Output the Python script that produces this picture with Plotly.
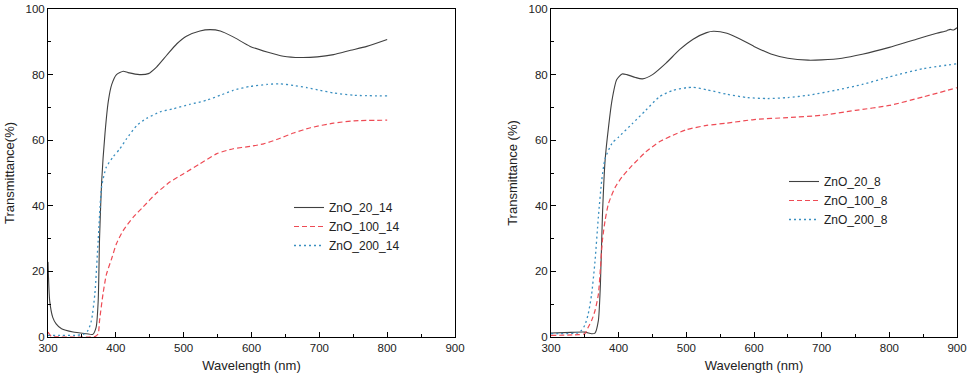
import plotly.graph_objects as go

# ---------------- Left panel data ----------------
wl_20_14 = [300, 302.5, 307, 312, 320, 337, 357, 366, 371, 374, 376, 379, 384, 389, 394, 401, 411, 418, 435, 448, 460,
            475, 490, 504, 524, 539, 554, 573, 598, 623, 647, 672, 697, 721, 746, 770, 800]
t_20_14 = [22.9, 11, 6, 4, 2.5, 1.5, 1.0, 0.8, 3, 11, 30, 47, 62, 72, 77, 80, 81, 80.6, 80, 80.3, 82.3,
           85.9, 89.4, 91.7, 93.3, 93.7, 93.3, 91.5, 88.6, 86.9, 85.6, 85.2, 85.4, 86.1, 87.4, 88.6, 90.7]

wl_100_14 = [300, 305, 320, 340, 360, 370, 374, 376, 381, 386, 394, 401, 411, 426, 440, 460, 480, 500, 524, 549,
             573, 598, 618, 637, 662, 687, 721, 751, 800]
t_100_14 = [1.5, 0.2, 0, 0, 0, 0.2, 1, 5, 13, 19, 24, 28.5, 32.5, 36.6, 39.6, 43.9, 47.3, 49.8, 52.8, 55.9,
            57.4, 58.1, 58.9, 60.2, 62.2, 63.8, 65.2, 65.9, 66.1]

wl_200_14 = [300, 320, 340, 352, 359, 364, 369, 374, 379, 386, 396, 406, 416, 431, 445, 465, 485, 509, 534, 554,
             573, 598, 623, 642, 662, 682, 701, 721, 751, 800]
t_200_14 = [0.5, 0.5, 0.5, 0.8, 2, 5, 13, 29.5, 45.7, 51.8, 54.9, 57.4, 60.5, 64.5, 66.6, 68.6, 69.6, 70.9, 72.2, 73.7,
            75.2, 76.4, 77.0, 77.2, 76.7, 76.0, 75.2, 74.4, 73.7, 73.5]

# ---------------- Right panel data ----------------
wl_20_8 = [300, 330, 350, 360, 365, 370, 373, 376, 380, 385, 390, 397, 405, 412, 425, 435, 450, 470, 490, 510, 530,
           540, 560, 580, 600, 625, 650, 680, 700, 730, 760, 800, 840, 870, 885, 890, 895, 900]
t_20_8 = [1.2, 1.4, 1.5, 1.0, 1.2, 5, 16, 37, 54, 64, 72, 78.4, 80.2, 80, 79.1, 78.7, 80, 83.5, 87.6, 90.8, 92.8,
          93.2, 92.6, 90.8, 88.6, 86.3, 85, 84.4, 84.5, 85, 86.2, 88.3, 90.8, 92.6, 93.4, 93.8, 93.6, 94.3]

wl_100_8 = [300, 340, 350, 355, 360, 365, 370, 373, 376, 380, 385, 395, 405, 420, 440, 460, 480, 500, 530, 560,
            600, 650, 700, 750, 800, 850, 900]
t_100_8 = [0.5, 0.7, 1, 3, 5, 8, 13, 21, 29.5, 35.6, 40.7, 45.7, 48.8, 52.3, 56.4, 59.5, 61.5, 63.2, 64.5, 65.2,
           66.3, 66.9, 67.6, 69.1, 70.6, 73.2, 76]

wl_200_8 = [300, 340, 345, 350, 355, 360, 365, 370, 375, 380, 390, 400, 420, 440, 460, 480, 500, 510, 530, 560,
            590, 620, 650, 680, 720, 760, 800, 850, 900]
t_200_8 = [1, 1.3, 2, 3.6, 7, 13, 23, 36.6, 47.8, 54.4, 59, 61, 65, 69.1, 73.2, 75.2, 76, 76.1, 75.4, 74,
           73, 72.7, 73, 73.7, 75.2, 77, 79.3, 81.8, 83.3]

names_left = ["ZnO_20_14", "ZnO_100_14", "ZnO_200_14"]
names_right = ["ZnO_20_8", "ZnO_100_8", "ZnO_200_8"]

x_ticks = [300, 400, 500, 600, 700, 800, 900]
y_ticks = [0, 20, 40, 60, 80, 100]

C_BLACK = "#404040"
C_RED = "#ee4b55"
C_BLUE = "#3a8fc0"

fig = go.Figure()

styles = [dict(color=C_BLACK, width=1.1, dash="solid"),
          dict(color=C_RED, width=1.2, dash="5px,3px"),
          dict(color=C_BLUE, width=1.3, dash="2px,3px")]

left = [(wl_20_14, t_20_14), (wl_100_14, t_100_14), (wl_200_14, t_200_14)]
right = [(wl_20_8, t_20_8), (wl_100_8, t_100_8), (wl_200_8, t_200_8)]

for (x, y), n, st in zip(left, names_left, styles):
    fig.add_trace(go.Scatter(x=x, y=y, name=n, mode="lines", line=dict(shape="spline", smoothing=0.6, **st),
                             xaxis="x", yaxis="y", legend="legend"))
for (x, y), n, st in zip(right, names_right, styles):
    fig.add_trace(go.Scatter(x=x, y=y, name=n, mode="lines", line=dict(shape="spline", smoothing=0.6, **st),
                             xaxis="x2", yaxis="y2", legend="legend2"))

FONT = "Liberation Sans, Arial, sans-serif"
tickfont = dict(family=FONT, size=11.5, color="#222")
titlefont = dict(family=FONT, size=13, color="#222")

W, H = 969, 378
ydom = [1 - 337 / H, 1 - 9 / H]


def xaxis(dom, anchor):
    return dict(domain=dom, anchor=anchor, range=[300, 900], tickvals=x_ticks, ticks="inside", ticklen=5,
                tickcolor="black", showline=True, linecolor="black", linewidth=1, mirror=True, showgrid=False,
                zeroline=False, tickfont=tickfont, automargin=False,
                minor=dict(ticks="inside", dtick=50, ticklen=3, tickcolor="black", showgrid=False),
                title=dict(text="Wavelength (nm)", font=titlefont, standoff=8))


def yaxis(anchor, title):
    return dict(domain=ydom, anchor=anchor, range=[0, 100], tickvals=y_ticks, ticks="inside", ticklen=5,
                tickcolor="black", showline=True, linecolor="black", linewidth=1, mirror=True, showgrid=False,
                zeroline=False, tickfont=tickfont, automargin=False,
                minor=dict(ticks="inside", dtick=10, ticklen=3, tickcolor="black", showgrid=False),
                title=dict(text=title, font=titlefont, standoff=7))


legfont = dict(family=FONT, size=12, color="#222")
fig.update_layout(
    width=W, height=H, margin=dict(l=0, r=0, t=0, b=0),
    paper_bgcolor="white", plot_bgcolor="white", showlegend=True,
    xaxis=xaxis([48 / W, 455 / W], "y"),
    yaxis=yaxis("x", "Transmittance(%)"),
    xaxis2=xaxis([551 / W, 957 / W], "y2"),
    yaxis2=yaxis("x2", "Transmittance (%)"),
    legend=dict(x=289 / W, y=1 - 193 / H, xanchor="left", yanchor="top", font=legfont,
                bgcolor="rgba(0,0,0,0)", tracegroupgap=0, itemwidth=30),
    legend2=dict(x=784 / W, y=1 - 167 / H, xanchor="left", yanchor="top", font=legfont,
                 bgcolor="rgba(0,0,0,0)", tracegroupgap=0, itemwidth=30),
)

fig.write_html("out.html", config={"displayModeBar": False},
               post_script="document.body.style.margin='0';document.body.style.overflow='hidden';")
